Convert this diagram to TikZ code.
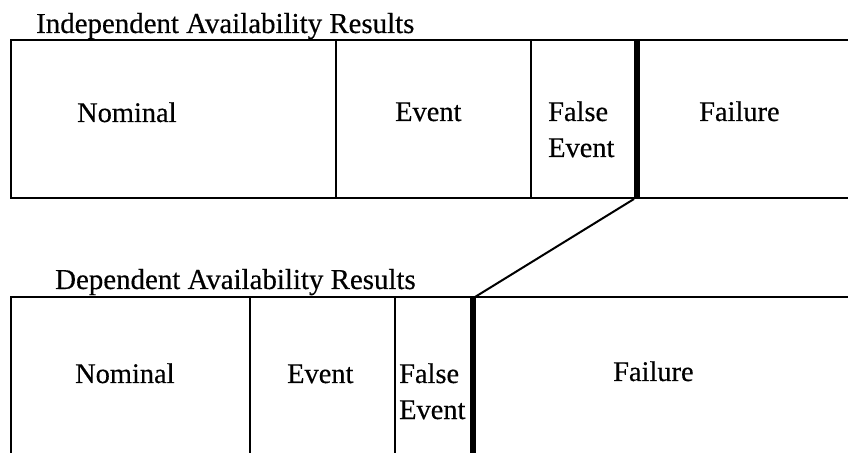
\documentclass[tikz,border=0pt]{standalone}
\usepackage{fontspec}
\setmainfont{Liberation Serif}
\newfontfamily\inkserif{Liberation Serif}[FakeBold=0.4]
\begin{document}
\begin{tikzpicture}[x=1bp,y=-1bp,
  rule/.style={line width=2bp},
  split/.style={line width=6bp},
  link/.style={line width=2bp},
  ttl/.style={anchor=base west, inner sep=0pt, font=\inkserif\fontsize{29}{34}\selectfont},
  lbl/.style={anchor=base west, inner sep=0pt, font=\inkserif\fontsize{28.5}{34}\selectfont}]
\useasboundingbox (0,0) rectangle (848,453);

% ---- independent results ----
\node[ttl] (ititle) at (36,33) {Independent Availability Results};
\draw[rule] (848,40) -- (11,40) -- (11,198) -- (848,198);
\draw[rule] (336,40) -- (336,198);
\draw[rule] (531,40) -- (531,198);
\node[lbl] (inom)  at (77,122)  {Nominal};
\node[lbl] (iev)   at (395,121) {Event};
\node[lbl] (ifa)   at (548,121) {False};
\node[lbl] (ifb)   at (548,157) {Event};
\node[lbl] (ifail) at (699,121) {Failure};
\draw[split] (637,40) -- (637,198);
\coordinate (isplit) at (634,199);

% ---- dependent results ----
\node[ttl] (dtitle) at (55,289) {Dependent Availability Results};
\draw[rule] (848,297) -- (11,297) -- (11,453);
\draw[rule] (250,297) -- (250,453);
\draw[rule] (395,297) -- (395,453);
\node[lbl] (dnom)  at (75,383)  {Nominal};
\node[lbl] (dev)   at (287,383) {Event};
\node[lbl] (dfa)   at (399,383) {False};
\node[lbl] (dfb)   at (399,419) {Event};
\node[lbl] (dfail) at (613,381) {Failure};
\draw[split] (473,297) -- (473,453);
\coordinate (dsplit) at (475,297);

% shift of the failure boundary
\draw[link] (isplit) -- (dsplit);
\end{tikzpicture}
\end{document}
